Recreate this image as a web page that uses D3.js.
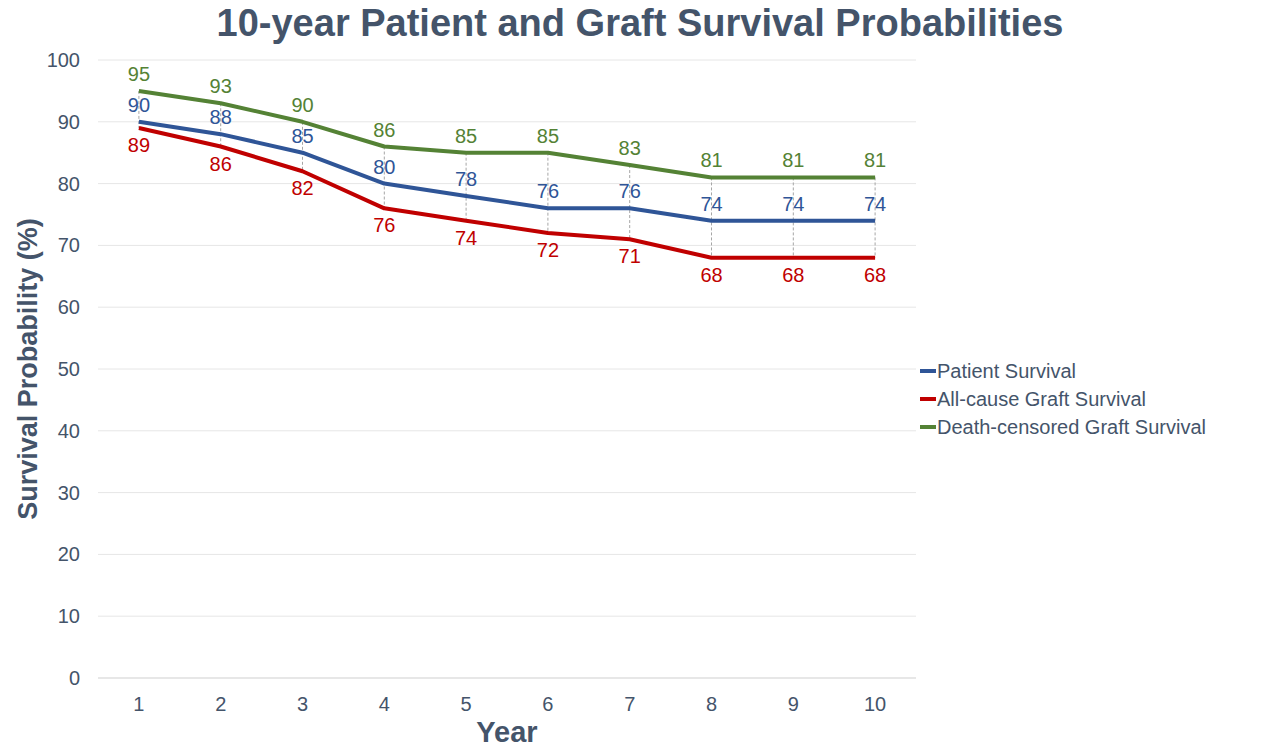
<!DOCTYPE html>
<html><head><meta charset="utf-8">
<script src="https://cdn.jsdelivr.net/npm/d3@7"></script>
<style>body{margin:0;background:#fff;font-family:"Liberation Sans",Arial,sans-serif}</style>
</head><body><div class="chart"></div>
<script>
var years = [1,2,3,4,5,6,7,8,9,10];
var patient = [90,88,85,80,78,76,76,74,74,74];
var allCause = [89,86,82,76,74,72,71,68,68,68];
var deathCensored = [95,93,90,86,85,85,83,81,81,81];
var yTicks = [0,10,20,30,40,50,60,70,80,90,100];

var series = [
  {name: "Patient Survival", values: patient, color: "#2f5597", pos: "above"},
  {name: "All-cause Graft Survival", values: allCause, color: "#c00000", pos: "below"},
  {name: "Death-censored Graft Survival", values: deathCensored, color: "#548235", pos: "above"}
];

var svg = d3.select(".chart").append("svg").attr("width", 1280).attr("height", 756);
var textColor = "#44546a";

var x = d3.scalePoint().domain(years).range([98, 916]).padding(0.5);
var y = d3.scaleLinear().domain([0, 100]).range([678, 60]);

// gridlines
svg.append("g").selectAll("line").data(yTicks.slice(1)).enter().append("line")
  .attr("x1", 98).attr("x2", 916)
  .attr("y1", d => y(d)).attr("y2", d => y(d))
  .attr("stroke", "#e6e6e6").attr("stroke-width", 1);

// axis
svg.append("line").attr("x1", 98).attr("x2", 916).attr("y1", y(0)).attr("y2", y(0))
  .attr("stroke", "#d0d0d0").attr("stroke-width", 1.2);

svg.append("g").selectAll("text").data(yTicks).enter().append("text")
  .attr("x", 80).attr("y", d => y(d)).attr("dy", "0.35em")
  .attr("text-anchor", "end").attr("font-size", 20).attr("fill", textColor)
  .text(d => d);

svg.append("g").selectAll("text").data(years).enter().append("text")
  .attr("x", d => x(d)).attr("y", 711).attr("text-anchor", "middle")
  .attr("font-size", 20).attr("fill", textColor).text(d => d);

// high-low lines
svg.append("g").selectAll("line").data(years).enter().append("line")
  .attr("x1", d => x(d)).attr("x2", d => x(d))
  .attr("y1", (d, i) => y(d3.max(series, s => s.values[i])))
  .attr("y2", (d, i) => y(d3.min(series, s => s.values[i])))
  .attr("stroke", "#a6a6a6").attr("stroke-width", 1).attr("stroke-dasharray", "3,2");

var line = d3.line().x((d, i) => x(years[i])).y(d => y(d));

series.forEach(function(s) {
  svg.append("path").datum(s.values).attr("d", line)
    .attr("fill", "none").attr("stroke", s.color).attr("stroke-width", 4)
    .attr("stroke-linejoin", "round");
  svg.append("g").selectAll("text").data(s.values).enter().append("text")
    .attr("x", (d, i) => x(years[i]))
    .attr("y", d => s.pos == "above" ? y(d) - 10 : y(d) + 24)
    .attr("text-anchor", "middle").attr("font-size", 20).attr("fill", s.color)
    .text(d => d);
});

// legend
var legend = svg.append("g").selectAll("g").data(series).enter().append("g")
  .attr("transform", (d, i) => `translate(920, ${371 + i * 28})`);
legend.append("line").attr("x1", 0).attr("x2", 16).attr("stroke", d => d.color).attr("stroke-width", 4);
legend.append("text").attr("x", 17).attr("dy", "0.35em").attr("font-size", 20)
  .attr("fill", textColor).text(d => d.name);

// titles
svg.append("text").attr("x", 640).attr("y", 36).attr("text-anchor", "middle")
  .attr("font-size", 38).attr("font-weight", "bold").attr("fill", textColor)
  .text("10-year Patient and Graft Survival Probabilities");
svg.append("text").attr("transform", "translate(28, 369) rotate(-90)")
  .attr("text-anchor", "middle").attr("dy", "0.35em")
  .attr("font-size", 27).attr("font-weight", "bold").attr("fill", textColor)
  .text("Survival Probability (%)");
svg.append("text").attr("x", 507).attr("y", 742).attr("text-anchor", "middle")
  .attr("font-size", 29).attr("font-weight", "bold").attr("fill", textColor)
  .text("Year");
</script>
</body></html>
